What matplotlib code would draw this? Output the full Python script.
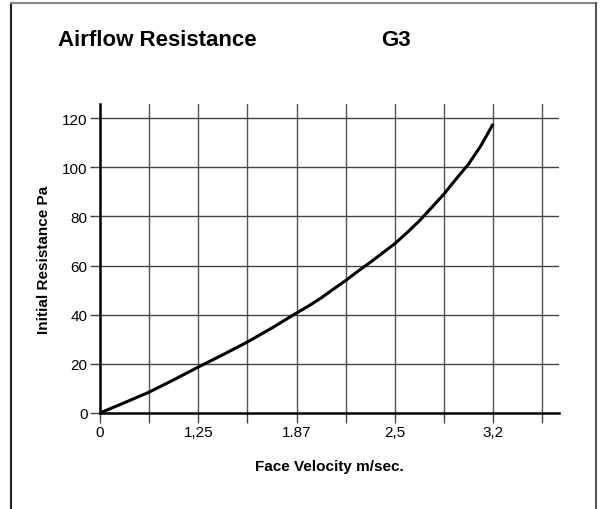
import matplotlib
matplotlib.use("Agg")
import matplotlib.pyplot as plt
from matplotlib.lines import Line2D

plt.rcParams['font.family'] = ['Liberation Sans', 'DejaVu Sans']

# Data (x in grid steps; labels every second gridline)
grid_pos = [0, 0.5, 1, 1.5, 2, 2.5, 3, 3.5, 4, 4.25, 4.5, 4.75, 5, 5.25, 5.5, 5.75,
            6, 6.25, 6.5, 6.75, 7, 7.25, 7.5, 7.75, 8]
resistance = [0, 4.2, 8.5, 13.5, 18.7, 23.7, 28.9, 34.6, 40.7, 43.6, 46.8, 50.4, 53.9,
              57.7, 61.3, 65.1, 68.9, 73.4, 78.2, 83.6, 89.1, 95.3, 101.3, 108.7, 117.6]
x_tick_labels = ['0', '', '1,25', '', '1.87', '', '2,5', '', '3,2', '']
y_ticks = [0, 20, 40, 60, 80, 100, 120]

fig = plt.figure(figsize=(6.04, 5.10), dpi=100)
W, H = 604, 510

# frame
fig.add_artist(Line2D([11/W, 11/W], [0, 1 - 4/H], color='#222222', lw=1.5))
fig.add_artist(Line2D([11/W, 596/W], [1 - 4/H, 1 - 4/H], color='#888888', lw=1.5))
fig.add_artist(Line2D([596/W, 596/W], [0, 1 - 4/H], color='#555555', lw=1.5))

ax = fig.add_axes([100/W, 96/H, 459/W, 309/H])
ax.set_xlim(0, 9.34)
ax.set_ylim(0, 125.7)

for gx in range(1, len(x_tick_labels)):
    ax.axvline(gx, color='#555555', lw=1.0, zorder=1)
for gy in y_ticks[1:]:
    ax.axhline(gy, color='#444444', lw=1.0, zorder=1)

ax.plot(grid_pos, resistance, color='black', lw=2.2, zorder=3,
        solid_capstyle='butt', solid_joinstyle='round')

for s in ['top', 'right']:
    ax.spines[s].set_visible(False)
for s in ['left', 'bottom']:
    ax.spines[s].set_linewidth(1.8)
    ax.spines[s].set_color('black')

ax.set_xticks(list(range(len(x_tick_labels))))
ax.set_xticklabels(x_tick_labels)
ax.set_yticks(y_ticks)
ax.tick_params(axis='both', direction='out', length=7, width=1.0, color='#444444',
               labelsize=11, pad=2)

ax.set_xlabel('Face Velocity m/sec.', fontsize=11, fontweight='bold', labelpad=14)
ax.set_ylabel('Initial Resistance Pa', fontsize=11, fontweight='bold', labelpad=8)

fig.text(58/W, 1 - 41/H, 'Airflow Resistance', fontsize=16, fontweight='bold',
         ha='left', va='center')
fig.text(381/W, 1 - 41/H, 'G3', fontsize=16, fontweight='bold', ha='left', va='center')

fig.savefig('out.png', dpi=100)
